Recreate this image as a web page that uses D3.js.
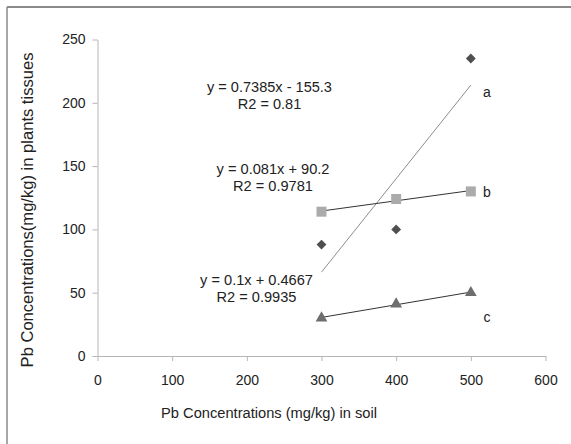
<!DOCTYPE html>
<html>
<head>
<meta charset="utf-8">
<script src="https://cdn.jsdelivr.net/npm/d3@7"></script>
<style>
  body { margin: 0; background: #fff; overflow: hidden; }
  svg { display: block; }
  text { font-family: "Liberation Sans", Arial, sans-serif; fill: #222; }
</style>
</head>
<body>
<div id="main"></div>
<script>
const soil = [300, 400, 500];
const seriesA = [88, 100, 235];
const seriesB = [114, 124, 130];
const seriesC = [30, 41, 50];
const xTicks = [0, 100, 200, 300, 400, 500, 600];
const yTicks = [0, 50, 100, 150, 200, 250];
const fits = [
    { name: 'a', slope: 0.7385, intercept: -155.3, eq: 'y = 0.7385x - 155.3', r2: 'R2 = 0.81' },
    { name: 'b', slope: 0.081, intercept: 90.2, eq: 'y = 0.081x + 90.2', r2: 'R2 = 0.9781' },
    { name: 'c', slope: 0.1, intercept: 0.4667, eq: 'y = 0.1x + 0.4667', r2: 'R2 = 0.9935' }
];

const width = 571, height = 444;
const margin = { top: 39.5, left: 97.5 };

const svg = d3.select('#main').append('svg').attr('width', width).attr('height', height);

const xScale = d3.scaleLinear().domain([0, 600]).range([0, 448]);
const yScale = d3.scaleLinear().domain([0, 250]).range([316.5, 0]);

// scale a text's font so it spans the wanted width
function fitText(sel, w) {
    const len = sel.node().getComputedTextLength();
    const fs = parseFloat(sel.style('font-size'));
    sel.style('font-size', (fs * w / len).toFixed(2) + 'px');
}

// outer frame, only the top and left edges are in view
svg.append('line')
    .attr('x1', 7).attr('y1', 7).attr('x2', width).attr('y2', 7)
    .attr('stroke', '#8a8a8a').attr('stroke-width', 2);
svg.append('line')
    .attr('x1', 7).attr('y1', 7).attr('x2', 7).attr('y2', height)
    .attr('stroke', '#8a8a8a').attr('stroke-width', 1.5);

const g = svg.append('g').attr('transform', `translate(${margin.left},${margin.top})`);

const xAxis = g.append('g')
    .attr('transform', `translate(0,${yScale(0)})`)
    .call(d3.axisBottom(xScale).tickValues(xTicks).tickSize(5).tickPadding(14).tickSizeOuter(0));
const yAxis = g.append('g')
    .call(d3.axisLeft(yScale).tickValues(yTicks).tickSize(5).tickPadding(7).tickSizeOuter(0));

[xAxis, yAxis].forEach(ax => {
    ax.select('.domain').attr('stroke', '#b5b5b5');
    ax.selectAll('.tick line').attr('stroke', '#b5b5b5');
    ax.selectAll('.tick text').style('font-size', '14px').style('font-family', '"Liberation Sans", Arial, sans-serif').attr('fill', '#222');
});

// trend lines
const trendColors = { a: '#8c8c8c', b: '#333', c: '#333' };
fits.forEach(f => {
    g.append('line')
        .attr('x1', xScale(soil[0])).attr('y1', yScale(f.slope * soil[0] + f.intercept))
        .attr('x2', xScale(soil[2])).attr('y2', yScale(f.slope * soil[2] + f.intercept))
        .attr('stroke', trendColors[f.name])
        .attr('stroke-width', 1);
});

// markers
g.selectAll('.ptA').data(seriesA).enter().append('path')
    .attr('transform', (d, i) => `translate(${xScale(soil[i])},${yScale(d)})`)
    .attr('d', d3.symbol(d3.symbolDiamond2, 62))
    .attr('fill', '#4f4f4f');

g.selectAll('.ptB').data(seriesB).enter().append('rect')
    .attr('x', (d, i) => xScale(soil[i]) - 5)
    .attr('y', d => yScale(d) - 5)
    .attr('width', 10).attr('height', 10)
    .attr('fill', '#ababab');

g.selectAll('.ptC').data(seriesC).enter().append('path')
    .attr('transform', (d, i) => `translate(${xScale(soil[i])},${yScale(d)})`)
    .attr('d', d3.symbol(d3.symbolTriangle, 60))
    .attr('fill', '#6e6e6e');

// equation labels (centre x, baselines, width of the equation line)
const eqPos = [
    { x: 269.5, y1: 92, y2: 109, w: 125 },
    { x: 273, y1: 174, y2: 191, w: 113 },
    { x: 256.5, y1: 285, y2: 302, w: 113 }
];
fits.forEach((f, i) => {
    const eq = svg.append('text')
        .attr('x', eqPos[i].x).attr('y', eqPos[i].y1)
        .style('font-size', '14px')
        .style('text-anchor', 'middle')
        .text(f.eq);
    fitText(eq, eqPos[i].w);
    svg.append('text')
        .attr('x', eqPos[i].x).attr('y', eqPos[i].y2)
        .style('font-size', eq.style('font-size'))
        .style('text-anchor', 'middle')
        .text(f.r2);
});

// series letters
const letterY = [92, 192, 317];
fits.forEach((f, i) => {
    svg.append('text')
        .attr('x', 487).attr('y', letterY[i])
        .attr('dy', '0.35em')
        .style('font-size', '14px')
        .style('text-anchor', 'middle')
        .text(f.name);
});

// axis titles
const xTitle = svg.append('text')
    .attr('x', 269).attr('y', 413)
    .attr('dy', '0.35em')
    .style('font-size', '14px')
    .style('text-anchor', 'middle')
    .text('Pb Concentrations (mg/kg) in soil');
fitText(xTitle, 216);

const yTitle = svg.append('text')
    .attr('x', 27).attr('y', 210)
    .attr('dy', '0.35em')
    .style('font-size', '14px')
    .style('text-anchor', 'middle')
    .attr('transform', 'rotate(-90,27,210)')
    .text('Pb Concentrations(mg/kg) in plants tissues');
fitText(yTitle, 315);
</script>
</body>
</html>
